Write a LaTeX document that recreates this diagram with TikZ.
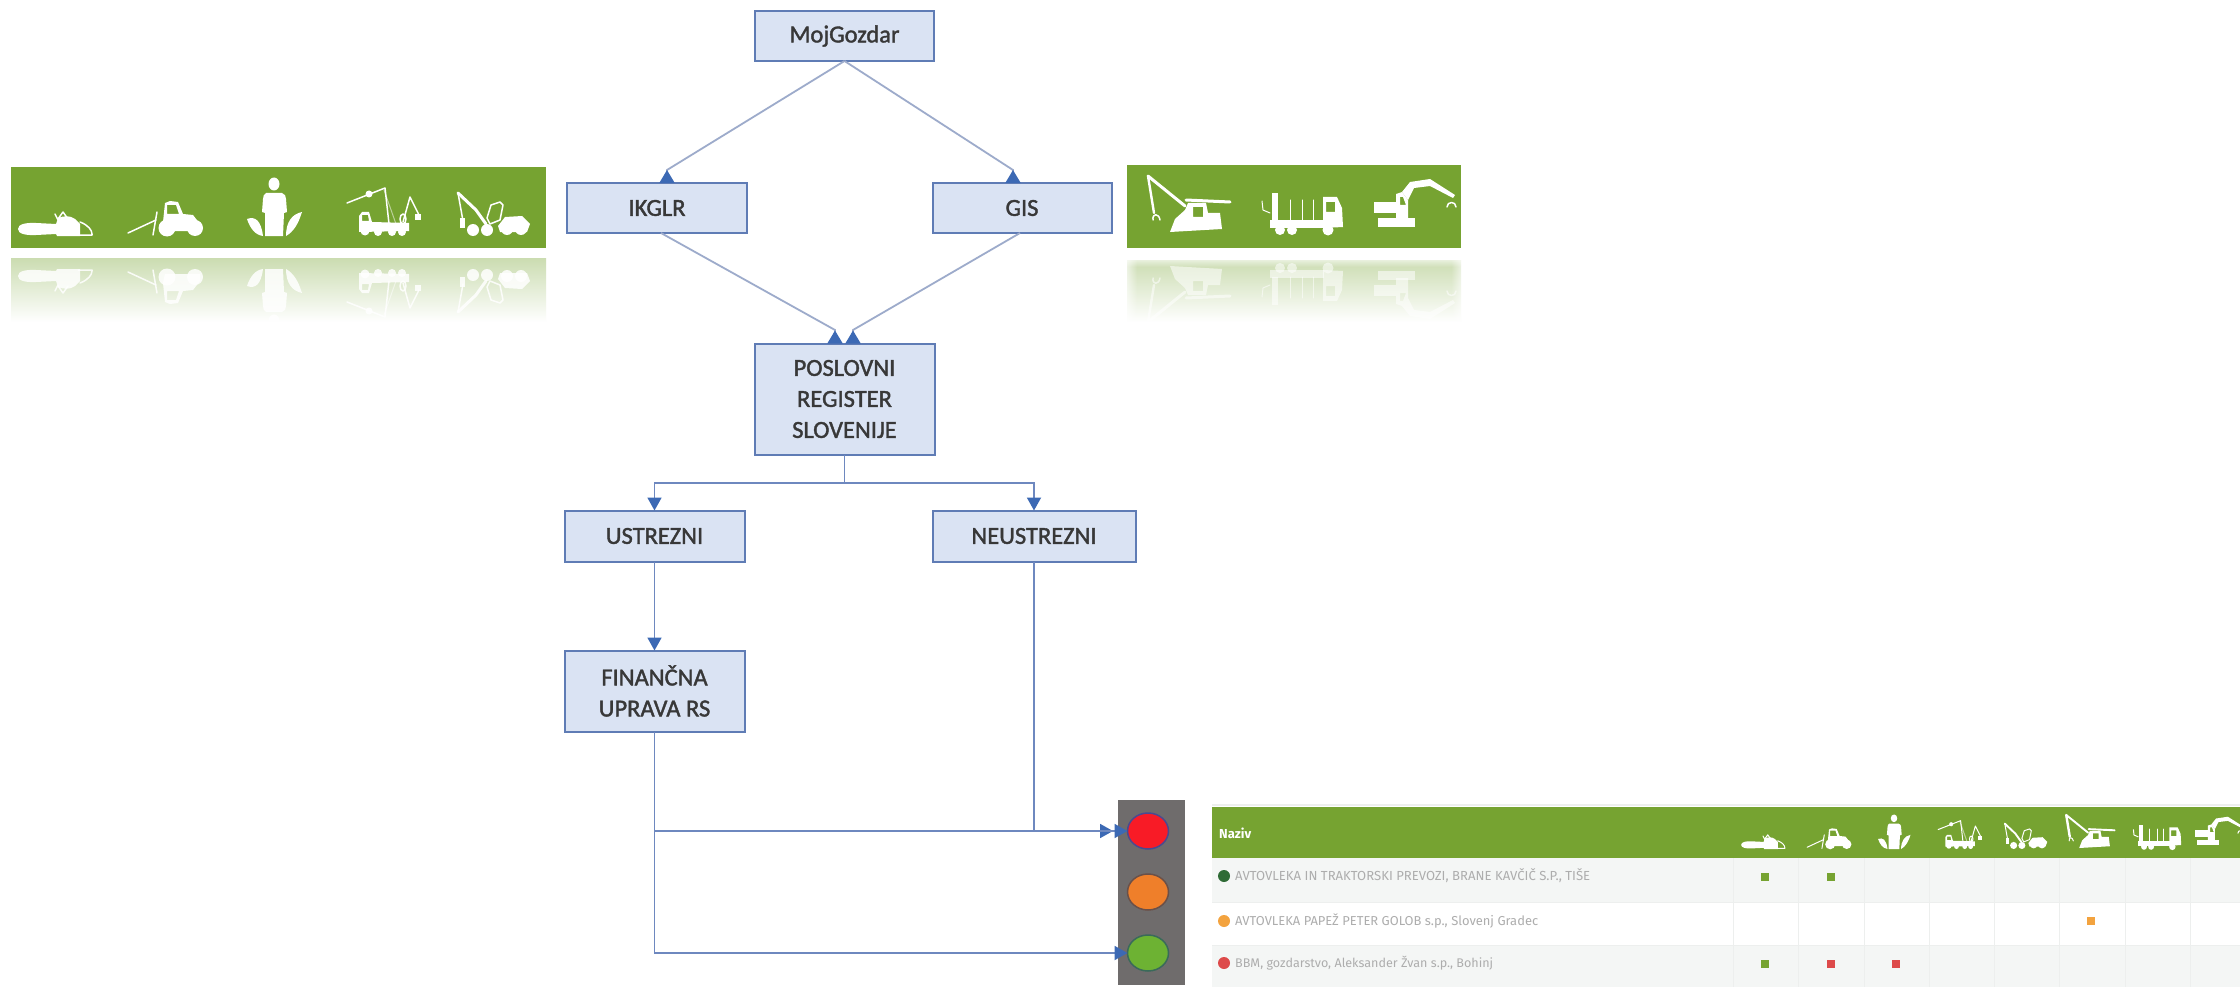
\documentclass[tikz,border=0pt]{standalone}
\usepackage{fontspec}
\usepackage{graphicx}
\setmainfont{Carlito}
\newfontfamily\boxfont{Carlito}[FakeBold=1.6]
\newfontfamily\tabfont{Fira Sans}
\usetikzlibrary{arrows.meta,fadings,calc,shapes.geometric}
\definecolor{bannergreen}{HTML}{76A331}
\definecolor{boxfill}{HTML}{DAE3F3}
\definecolor{boxline}{HTML}{5F7CB5}
\definecolor{connpale}{HTML}{9DABCB}
\definecolor{connblue}{HTML}{6E88BF}
\definecolor{tipblue}{HTML}{3C69B4}
\definecolor{rowgrey}{HTML}{F4F6F5}
\definecolor{gridgrey}{HTML}{EDEFEE}
\definecolor{squareorange}{HTML}{F3A33F}
\definecolor{squarered}{HTML}{DD4A4A}
\definecolor{lampgrey}{HTML}{6F6C6C}
\definecolor{lampred}{HTML}{F81B26}
\definecolor{lamporange}{HTML}{EF7F2A}
\definecolor{lampgreen}{HTML}{6DB233}
\definecolor{lampredb}{HTML}{4A4A90}
\definecolor{lamporangeb}{HTML}{6B5048}
\definecolor{lampgreenb}{HTML}{3A6A5A}
\definecolor{dotgreen}{HTML}{2F6B36}
\tikzset{
  flowbox/.style={draw=boxline,fill=boxfill,line width=2pt,inner sep=0pt,outer sep=0pt,
    font={\boxfont\fontsize{24.5}{31}\selectfont},text=black!78,align=center},
  connline/.style={draw=connpale,line width=1.8pt},
  connmain/.style={draw=connblue,line width=1.8pt},
  tipdown/.style={-{Triangle[length=13pt,width=14pt,color=tipblue]}},
  tipup/.style={-{Triangle[reversed,length=13pt,width=15pt,color=tipblue]}},
  lamp/.style={ellipse,minimum width=41pt,minimum height=36pt,line width=1.5pt,inner sep=0pt,outer sep=0pt},
  icf/.style={fill=white,draw=none},
  icl/.style={draw=white,line width=1.5pt,line cap=round,line join=round},
  ict/.style={draw=white,line width=3pt,line cap=round,line join=round},
  cellsq/.style={minimum size=8pt,inner sep=0pt,draw=none},
  rowdot/.style={circle,minimum size=12pt,inner sep=0pt,draw=none},
  rowtext/.style={anchor=west,inner sep=0pt,text=black!32},
}
\newcommand\icSaw{%
  \fill[icf] (18,229) .. controls (18,224) and (26,222.5) .. (36,223) -- (56,224) -- (58,218) .. controls (63,216) and (70,215) .. (75,219) -- (80,224) -- (80,236) -- (57,236) -- (56,234) -- (36,235) .. controls (26,235.5) and (18,234) .. (18,229) -- cycle;
  \draw[icl] (80,222) .. controls (88,225) and (92,230) .. (92,234) -- (92,235) -- (78,235);
  \draw[icl] (55,214) -- (58,220) (58,219) -- (63,212) -- (68,219);
}
\newcommand\icTractor{%
  \fill[icf,even odd rule] (163,222) -- (165,203) -- (170,201) -- (178,202) -- (183,214) -- (193,215) -- (200,224) -- (200,231) -- (165,231) -- cycle
    (167,205) -- (176,205) -- (179,214) -- (167,214) -- cycle;
  \fill[icf] (167,228) circle[radius=8.5] (195,228) circle[radius=8];
  \draw[icl] (128,233) -- (156,220);
  \draw[icl] (153,235) -- (157,212);
}
\newcommand\icPerson{%
  \fill[icf] (274,184) ellipse[x radius=5.5,y radius=6.5];
  \fill[icf] (266,193) -- (282,193) .. controls (285,194) and (286,196) .. (286,199) -- (287,212) -- (284,213) -- (283,236) -- (265,236) -- (265,213) -- (262,212) -- (263,199) .. controls (263,196) and (264,194) .. (266,193) -- cycle;
  \fill[icf] (247,219) .. controls (255,216) and (261,220) .. (263,236) .. controls (255,235) and (250,228) .. (247,219) -- cycle;
  \fill[icf] (302,212) .. controls (298,225) and (293,232) .. (286,236) .. controls (286,222) and (292,214) .. (302,212) -- cycle;
}
\newcommand\icCrane{%
  \fill[icf,even odd rule] (359,232) -- (359,216) -- (362,212) -- (369,212) -- (372,222) -- (409,223) -- (409,231) -- cycle
    (362,215) -- (368,215) -- (369,221) -- (362,221) -- cycle;
  \fill[icf] (365,231) circle[radius=4.5] (378,232) circle[radius=4] (392,232) circle[radius=4] (402,232) circle[radius=4];
  \draw[icl] (347,203) -- (385,188) -- (389,224);
  \draw[draw=white,opacity=.5,line width=1pt] (384,190) -- (396,224);
  \fill[icf] (369,194) circle[radius=3.5];
  \draw[icl] (403,222) -- (410,197) -- (419,215);
  \fill[icf] (415,214) rectangle (421,220);
  \draw[icl] (403,219) ellipse[x radius=3,y radius=5];
}
\newcommand\icHarv{%
  \draw[icl] (458,193) -- (463,221);
  \draw[ict] (458,193) -- (476,210) -- (486,224);
  \fill[icf] (460,218) rectangle (465,228);
  \fill[icf] (473,230) circle[radius=6] (487,230) circle[radius=6];
  \draw[icl] (487,218) -- (491,205) -- (500,202) -- (503,205) -- (500,220) -- (490,224) -- cycle;
  \fill[icf] (498,226) -- (505,217) -- (522,216) -- (530,224) -- (527,232) -- (500,232) -- cycle;
  \fill[icf] (507,229) circle[radius=6] (521,229) circle[radius=6];
}
\newcommand\icForw{%
  \draw[icl,line width=2.4pt] (1148,176) -- (1154,213);
  \draw[ict] (1148,176) -- (1185,206);
  \draw[icl] (1153,220) .. controls (1152,213) and (1159,213) .. (1160,220);
  \fill[icf,even odd rule] (1170,232) -- (1175,219) -- (1185,210) -- (1188,203) -- (1206,203) -- (1208,213) -- (1220,213) -- (1222,229) -- cycle
    (1193,207) rectangle (1203,217);
  \draw[ict] (1186,200) -- (1230,202);
}
\newcommand\icTruck{%
  \fill[icf,even odd rule] (1323,197) -- (1337,197) -- (1342,208) -- (1343,227) -- (1323,228) -- cycle
    (1326,202) rectangle (1335,212);
  \fill[icf] (1270,220) rectangle (1324,228);
  \fill[icf] (1280,230) circle[radius=5] (1292,230) circle[radius=5] (1328,230) circle[radius=5.5];
  \fill[icf] (1272,193) rectangle (1278,221);
  \draw[icl,line width=1pt] (1290,200) -- (1290,221) (1302,200) -- (1302,221) (1313,200) -- (1313,221);
  \draw[icl,line width=1pt] (1262,201) -- (1263,210) -- (1270,213);
}
\newcommand\icExc{%
  \fill[icf] (1374,202) rectangle (1396,213);
  \fill[icf,even odd rule] (1396,194) -- (1402,192) -- (1408,200) -- (1408,220) -- (1396,220) -- cycle
    (1400,197) -- (1403,197) -- (1406,205) -- (1400,205) -- cycle;
  \fill[icf] (1378,218) rectangle (1415,227);
  \fill[icf] (1402,192) -- (1410,182) -- (1430,179) -- (1455,195) -- (1453,198) -- (1430,186) -- (1414,188) -- (1408,200) -- cycle;
  \draw[icl] (1447,207) .. controls (1447,201) and (1456,201) .. (1456,207);
}
\newcommand\leftIcons{\icSaw\icTractor\icPerson\icCrane\icHarv}
\newcommand\rightIcons{\icForw\icTruck\icExc}
\newcommand\tabIcon[5]{% cx, x0, y0, target y, macro
  \begin{scope}[shift={(#1,#4)},scale=.59,shift={(-#2,-#3)},
    icl/.style={draw=white,line width=1pt,line cap=round,line join=round},
    ict/.style={draw=white,line width=1.9pt,line cap=round,line join=round}]#5\end{scope}}
\begin{document}
\begin{tikzpicture}[x=1pt,y=-1pt]
\useasboundingbox (0,0) rectangle (2240,987);
\fill[white] (0,0) rectangle (2240,987);
% left banner
\fill[bannergreen] (11,167) rectangle (546,248);
\leftIcons
\shade[top color=bannergreen!38,bottom color=white] (11,258) rectangle (546,322);
\begin{scope}[shift={(0,505)},yscale=-1,opacity=.85]\leftIcons\end{scope}
% right banner
\fill[bannergreen] (1127,165) rectangle (1461,248);
\rightIcons
\shade[top color=bannergreen!38,bottom color=white] (1127,260) rectangle (1461,322);
\begin{scope}[shift={(0,498)},yscale=-1,opacity=.55]\rightIcons\end{scope}
\fill[white,path fading=east] (1120,255) rectangle (1137,322);
\fill[white,path fading=west] (1451,255) rectangle (1468,322);
\fill[white,path fading=south] (1120,255) rectangle (1468,267);
% flow boxes
\node[flowbox,minimum width=179pt,minimum height=50pt] (moj) at (844.5,36) {MojGozdar};
\node[flowbox,minimum width=180pt,minimum height=50pt] (ik) at (657,208) {IKGLR};
\node[flowbox,minimum width=179pt,minimum height=50pt] (gis) at (1022,208) {GIS};
\node[flowbox,minimum width=180pt,minimum height=111pt] (pos) at (844.5,399) {POSLOVNI\\REGISTER\\SLOVENIJE};
\node[flowbox,minimum width=180pt,minimum height=51pt] (ust) at (654.5,536) {USTREZNI};
\node[flowbox,minimum width=203pt,minimum height=51pt] (neu) at (1034,536) {NEUSTREZNI};
\node[flowbox,minimum width=180pt,minimum height=81pt] (fin) at (654.5,691) {FINANČNA\\UPRAVA RS};
% traffic light
\fill[lampgrey] (1118,800) rectangle (1185,985);
\node[lamp,draw=lampredb,fill=lampred] (red) at (1148,831) {};
\node[lamp,draw=lamporangeb,fill=lamporange] (orange) at (1148,892) {};
\node[lamp,draw=lampgreenb,fill=lampgreen] (green) at (1148,953) {};
% helper coordinates
\coordinate (ikup) at (667,170);
\coordinate (gisup) at (1013,170);
\coordinate (posa) at (835,330);
\coordinate (posb) at (853,330);
\coordinate (ikout) at (661,233);
\coordinate (gisout) at (1020,233);
\coordinate (bus) at (844.5,483);
\coordinate (finj) at (654.5,831);
\coordinate (redin) at (1113,831);
% connectors
\draw[connline,tipup] (moj.south) -- (ikup) -- (ikup |- ik.north);
\draw[connline,tipup] (moj.south) -- (gisup) -- (gisup |- gis.north);
\draw[connline,tipup] (ikout) -- (posa) -- (posa |- pos.north);
\draw[connline,tipup] (gisout) -- (posb) -- (posb |- pos.north);
\draw[connmain] (pos.south) -- (bus);
\draw[connmain,tipdown] (bus) -| (ust.north);
\draw[connmain,tipdown] (bus) -| (neu.north);
\draw[connmain,tipdown] (ust.south) -- (fin.north);
\draw[connmain,tipdown] (fin.south) |- (green.west);
\draw[connmain,tipdown] (finj) -- (redin);
\draw[connmain,tipdown] (neu.south) |- (red.west);
% table
\fill[gridgrey] (1212,804) rectangle (2240,805.5);
\fill[bannergreen] (1212,807) rectangle (2240,858);
\fill[rowgrey] (1212,858) rectangle (2240,902);
\fill[rowgrey] (1212,945) rectangle (2240,987);
\draw[gridgrey,line width=1pt] (1212,902) -- (2240,902) (1212,945) -- (2240,945);
\foreach \cx in {1733,1798,1864,1929,1994,2059,2125,2190} {\draw[gridgrey,line width=1pt] (\cx,858) -- (\cx,987);}
\node[anchor=west,inner sep=0pt,text=white,font={\tabfont\bfseries\fontsize{13}{15}\selectfont}] (naziv) at (1219,833) {Naziv};
\node[rowdot,fill=dotgreen] (d1) at (1224,876) {};
\node[rowdot,fill=squareorange] (d2) at (1224,921) {};
\node[rowdot,fill=squarered] (d3) at (1224,963) {};
\node[rowtext] (t1) at (1235,876) {\resizebox{355pt}{!}{\tabfont AVTOVLEKA IN TRAKTORSKI PREVOZI, BRANE KAVČIČ S.P., TIŠE}};
\node[rowtext] (t2) at (1235,921) {\resizebox{303pt}{!}{\tabfont AVTOVLEKA PAPEŽ PETER GOLOB s.p., Slovenj Gradec}};
\node[rowtext] (t3) at (1235,963) {\resizebox{258pt}{!}{\tabfont BBM, gozdarstvo, Aleksander Žvan s.p., Bohinj}};
\tabIcon{1763}{55}{236}{849}{\icSaw}
\tabIcon{1829}{165}{236}{849}{\icTractor}
\tabIcon{1894}{274}{236}{849}{\icPerson}
\tabIcon{1960}{384}{236}{849}{\icCrane}
\tabIcon{2026}{494}{236}{849}{\icHarv}
\tabIcon{2091}{1190}{232}{848}{\icForw}
\tabIcon{2157}{1302}{232}{848}{\icTruck}
\tabIcon{2219}{1415}{232}{848}{\icExc}
\node[cellsq,fill=bannergreen] (s1) at (1765,877) {};
\node[cellsq,fill=bannergreen] (s2) at (1831,877) {};
\node[cellsq,fill=squareorange] (s3) at (2091,921) {};
\node[cellsq,fill=bannergreen] (s4) at (1765,964) {};
\node[cellsq,fill=squarered] (s5) at (1831,964) {};
\node[cellsq,fill=squarered] (s6) at (1896,964) {};
\end{tikzpicture}
\end{document}
